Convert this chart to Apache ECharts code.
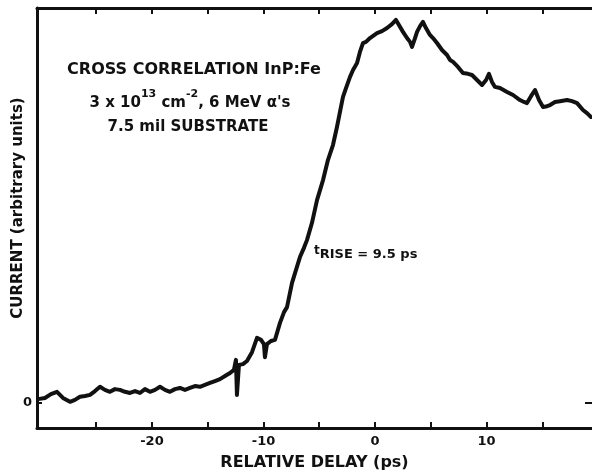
<!DOCTYPE html>
<html>
<head>
<meta charset="utf-8">
<script src="https://cdn.jsdelivr.net/npm/echarts@6/dist/echarts.min.js"></script>
<style>
  html, body { margin: 0; padding: 0; background: #ffffff; }
  #chart { width: 592px; height: 476px; }
</style>
</head>
<body>
<div id="chart"></div>
<script>
// Cross-correlation trace: relative delay (ps) vs. photocurrent (arbitrary units)
const delayPs = [
  -30.22, -29.60, -29.06, -28.52, -27.98, -27.35, -26.91, -26.46, -26.01, -25.56,
  -25.11, -24.66, -24.22, -23.77, -23.32, -22.87, -22.42, -21.97, -21.52, -21.08,
  -20.63, -20.18, -19.73, -19.28, -18.83, -18.39, -17.94, -17.49, -17.04, -16.59,
  -16.14, -15.70, -15.25, -14.80, -14.35, -13.90, -13.45, -13.00, -12.65, -12.47,
  -12.38, -12.20, -11.84, -11.48, -11.03, -10.58, -10.22, -9.96, -9.87, -9.69,
  -9.33, -8.97, -8.52, -8.16, -7.89, -7.44, -7.09, -6.73, -6.37, -6.10,
  -5.65, -5.20, -4.93, -4.66, -4.22, -3.77, -3.41, -3.14, -2.87, -2.60,
  -2.24, -1.97, -1.61, -1.35, -1.08, -0.81, -0.45, 0.18, 0.63, 1.08,
  1.52, 1.88, 2.24, 2.51, 2.87, 3.14, 3.32, 3.59, 3.77, 4.04,
  4.30, 4.57, 4.93, 5.20, 5.56, 6.01, 6.46, 6.73, 7.00, 7.44,
  7.89, 8.34, 8.70, 9.15, 9.60, 9.96, 10.22, 10.49, 10.76, 11.21,
  11.84, 12.38, 13.00, 13.36, 13.63, 13.99, 14.35, 14.71, 15.07, 15.43,
  15.70, 16.14, 16.59, 17.22, 17.67, 18.12, 18.65, 19.01, 19.37
];
const currentVals = [
  1.0, 1.3, 2.3, 2.9, 1.3, 0.3, 0.8, 1.6, 1.8, 2.1,
  3.1, 4.2, 3.4, 2.9, 3.6, 3.4, 2.9, 2.6, 3.1, 2.6,
  3.6, 2.9, 3.4, 4.2, 3.4, 2.9, 3.6, 3.9, 3.4, 3.9,
  4.4, 4.2, 4.7, 5.2, 5.7, 6.2, 7.0, 7.8, 8.6, 11.2,
  2.1, 9.9, 10.1, 10.9, 13.2, 16.9, 16.4, 15.3, 11.9, 15.3,
  16.1, 16.4, 20.8, 23.6, 24.9, 31.2, 34.5, 37.9, 40.3, 42.3,
  46.8, 52.7, 55.3, 57.9, 63.1, 67.0, 71.7, 75.6, 79.5, 81.8,
  84.7, 86.5, 88.3, 91.2, 93.5, 93.8, 94.8, 96.1, 96.6, 97.4,
  98.4, 99.5, 97.7, 96.4, 94.8, 93.8, 92.5, 94.8, 96.4, 97.9,
  99.0, 97.4, 95.6, 94.8, 93.5, 91.7, 90.4, 89.1, 88.6, 87.3,
  85.7, 85.5, 85.2, 83.9, 82.6, 83.9, 85.5, 83.4, 82.1, 81.8,
  80.8, 80.0, 78.7, 78.2, 77.9, 79.7, 81.3, 78.7, 76.9, 77.1,
  77.4, 78.2, 78.4, 78.7, 78.4, 77.9, 76.1, 75.3, 74.3
];

// Axis ticks and labels
const xTickValues = [-25, -20, -15, -10, -5, 0, 5, 10, 15];
const xLabelValues = [-20, -10, 0, 10];
const yLabelValues = [0];

const FONT = "'DejaVu Sans', 'Liberation Sans', sans-serif";
const INK = '#111111';

const chart = echarts.init(document.getElementById('chart'), null, { renderer: 'canvas' });

const trace = delayPs.map((d, i) => [d, currentVals[i]]);

const frameLine = { show: true, onZero: false, lineStyle: { color: INK, width: 3 } };
const tickStyle = { color: INK, width: 2 };

chart.setOption({
  animation: false,
  backgroundColor: '#ffffff',
  grid: { left: 37, right: 0, top: 8, bottom: 48, containLabel: false },
  xAxis: [
    {
      type: 'value',
      position: 'bottom',
      min: -30.31,
      max: 19.46,
      axisLine: frameLine,
      axisTick: { show: true, inside: true, length: 6, customValues: xTickValues, lineStyle: tickStyle },
      axisLabel: { show: true, customValues: xLabelValues, margin: 7,
                   color: INK, fontFamily: FONT, fontWeight: 'bold', fontSize: 13 },
      splitLine: { show: false },
      name: 'RELATIVE DELAY (ps)',
      nameLocation: 'middle',
      nameGap: 27,
      nameTextStyle: { color: INK, fontFamily: FONT, fontWeight: 'bold', fontSize: 16 }
    },
    {
      type: 'value',
      position: 'top',
      min: -30.31,
      max: 19.46,
      axisLine: frameLine,
      axisTick: { show: true, inside: true, length: 6, customValues: xTickValues, lineStyle: tickStyle },
      axisLabel: { show: false },
      splitLine: { show: false }
    }
  ],
  yAxis: [
    {
      type: 'value',
      position: 'left',
      min: -6.5,
      max: 102.6,
      axisLine: frameLine,
      axisTick: { show: true, inside: true, length: 5, customValues: yLabelValues, lineStyle: tickStyle },
      axisLabel: { show: true, customValues: yLabelValues, margin: 5,
                   color: INK, fontFamily: FONT, fontWeight: 'bold', fontSize: 13 },
      splitLine: { show: false }
    },
    {
      type: 'value',
      position: 'right',
      offset: 6,
      min: -6.5,
      max: 102.6,
      axisLine: { show: false, onZero: false },
      axisTick: { show: true, inside: true, length: 13, customValues: yLabelValues, lineStyle: tickStyle },
      axisLabel: { show: false },
      splitLine: { show: false }
    }
  ],
  series: [
    {
      type: 'line',
      xAxisIndex: 0,
      yAxisIndex: 0,
      data: trace,
      showSymbol: false,
      smooth: false,
      lineStyle: { color: INK, width: 4, join: 'round', cap: 'round' }
    }
  ],
  graphic: [
    {
      type: 'text',
      x: 18, y: 208, rotation: Math.PI / 2,
      style: {
        text: 'CURRENT (arbitrary units)',
        fill: INK, font: "bold 15px " + FONT,
        align: 'center', verticalAlign: 'middle'
      }
    },
    {
      type: 'text',
      x: 194, y: 70,
      style: {
        text: 'CROSS CORRELATION InP:Fe',
        fill: INK, font: "bold 16px " + FONT,
        align: 'center', verticalAlign: 'middle'
      }
    },
    {
      type: 'text',
      x: 190, y: 100,
      style: {
        text: '{n|3 x 10}{s|13}{n| cm}{s|-2}{n|, 6 MeV α\'s}',
        align: 'center', verticalAlign: 'middle',
        rich: {
          n: { fill: INK, font: "bold 15px " + FONT, lineHeight: 22, verticalAlign: 'bottom' },
          s: { fill: INK, font: "bold 11px " + FONT, lineHeight: 22, verticalAlign: 'top' }
        }
      }
    },
    {
      type: 'text',
      x: 188, y: 127,
      style: {
        text: '7.5 mil SUBSTRATE',
        fill: INK, font: "bold 15px " + FONT,
        align: 'center', verticalAlign: 'middle'
      }
    },
    {
      type: 'text',
      x: 314, y: 253,
      style: {
        text: '{t|t}{r|RISE}{n| = 9.5 ps}',
        align: 'left', verticalAlign: 'middle',
        rich: {
          t: { fill: INK, font: "bold 12px " + FONT, lineHeight: 16, verticalAlign: 'top' },
          r: { fill: INK, font: "bold 13px " + FONT, lineHeight: 16, verticalAlign: 'bottom' },
          n: { fill: INK, font: "bold 13px " + FONT, lineHeight: 16, verticalAlign: 'bottom' }
        }
      }
    }
  ]
});
</script>
</body>
</html>
